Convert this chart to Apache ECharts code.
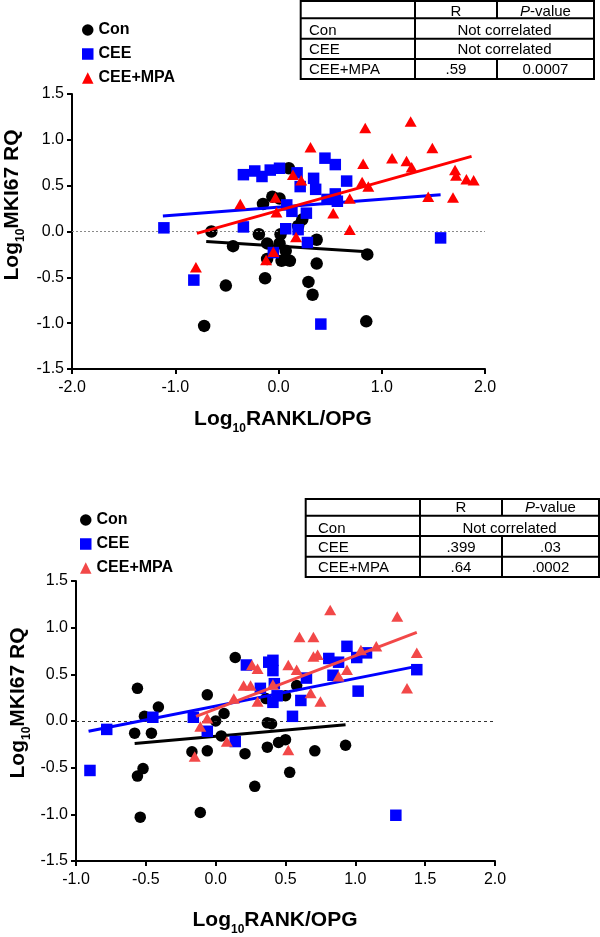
<!DOCTYPE html>
<html><head><meta charset="utf-8">
<script src="https://cdn.jsdelivr.net/npm/echarts@6/dist/echarts.min.js"></script>
<style>html,body{margin:0;padding:0;background:#fff}#c{width:600px;height:937px}</style>
</head><body><div id="c"></div>
<script>
// ---- Data: top panel (x = Log10 RANKL/OPG) ----
const groups = ['Con', 'CEE', 'CEE+MPA'];
const topCon = [[-0.72,-1.03],[-0.65,0.00],[-0.51,-0.59],[-0.44,-0.16],[-0.19,-0.03],[-0.15,0.30],[-0.13,-0.51],[-0.11,-0.13],[-0.11,-0.30],[-0.06,0.38],[0.01,0.36],[0.01,-0.13],[0.02,-0.03],[0.03,-0.32],[0.07,-0.21],[0.10,0.69],[0.11,-0.32],[0.19,0.06],[0.23,0.13],[0.29,-0.55],[0.33,-0.69],[0.37,-0.09],[0.37,-0.35],[0.85,-0.98],[0.86,-0.25]];
const topCEE = [[-1.11,0.04],[-0.82,-0.53],[-0.34,0.05],[-0.34,0.62],[-0.23,0.66],[-0.16,0.60],[-0.08,0.67],[0.01,0.69],[-0.05,-0.23],[0.07,0.03],[0.19,0.02],[0.08,0.29],[0.13,0.22],[0.18,0.64],[0.21,0.49],[0.27,0.20],[0.28,-0.12],[0.34,0.58],[0.36,0.46],[0.41,-1.01],[0.45,0.80],[0.47,0.35],[0.55,0.73],[0.55,0.41],[0.57,0.33],[0.66,0.55],[1.57,-0.07]];
const topMPA = [[-0.80,-0.39],[-0.37,0.30],[-0.12,-0.31],[-0.05,-0.22],[-0.03,0.37],[-0.02,0.21],[0.14,0.62],[0.22,0.56],[0.17,-0.06],[0.31,0.92],[0.53,0.20],[0.69,0.36],[0.69,0.02],[0.81,0.54],[0.87,0.49],[0.82,0.74],[0.84,1.13],[1.10,0.80],[1.24,0.77],[1.29,0.70],[1.28,1.20],[1.45,0.38],[1.49,0.91],[1.69,0.37],[1.71,0.67],[1.72,0.61],[1.82,0.57],[1.89,0.56]];
const topConFit = [[-0.70,-0.11],[0.86,-0.22]];
const topCEEFit = [[-1.12,0.17],[1.57,0.40]];
const topMPAFit = [[-0.79,-0.02],[1.87,0.82]];

// ---- Data: bottom panel (x = Log10 RANK/OPG) ----
const botCon = [[-0.58,-0.13],[-0.56,0.35],[-0.56,-0.59],[-0.54,-1.03],[-0.52,-0.51],[-0.51,0.05],[-0.46,-0.13],[-0.41,0.15],[-0.17,-0.33],[-0.11,-0.98],[-0.06,-0.32],[-0.06,0.28],[0.00,0.00],[0.04,-0.16],[0.06,0.08],[0.14,0.68],[0.21,-0.35],[0.28,-0.70],[0.36,0.24],[0.37,-0.02],[0.40,-0.03],[0.37,-0.28],[0.45,-0.23],[0.50,-0.20],[0.50,0.27],[0.53,-0.55],[0.58,0.38],[0.71,-0.32],[0.93,-0.26]];
const botCEE = [[-0.90,-0.53],[-0.78,-0.09],[-0.45,0.04],[-0.16,0.04],[-0.06,-0.11],[0.14,-0.22],[0.22,0.60],[0.32,0.35],[0.38,0.63],[0.41,0.65],[0.41,0.54],[0.42,0.40],[0.44,0.27],[0.41,0.20],[0.55,0.05],[0.61,0.22],[0.65,0.46],[0.81,0.67],[0.84,0.49],[0.88,0.63],[0.94,0.80],[1.01,0.68],[1.02,0.32],[1.08,0.73],[1.29,-1.01],[1.44,0.55]];
const botMPA = [[-0.15,-0.38],[-0.11,-0.06],[-0.06,0.03],[0.08,-0.22],[0.13,0.24],[0.20,0.38],[0.25,0.38],[0.26,0.60],[0.30,0.56],[0.30,0.21],[0.41,0.39],[0.52,0.60],[0.52,-0.31],[0.58,0.55],[0.60,0.90],[0.68,0.30],[0.70,0.90],[0.70,0.69],[0.73,0.71],[0.75,0.21],[0.82,1.19],[0.88,0.48],[0.94,0.55],[1.04,0.76],[1.15,0.80],[1.30,1.12],[1.37,0.35],[1.44,0.73]];
const botConFit = [[-0.58,-0.24],[0.93,-0.04]];
const botCEEFit = [[-0.91,-0.11],[1.42,0.58]];
const botMPAFit = [[-0.14,0.05],[1.44,0.95]];

// ---- Table texts ----
const tableHeader = ['R', 'P-value'];
const topTableRows = [['Con','Not correlated'],['CEE','Not correlated'],['CEE+MPA','.59','0.0007']];
const botTableRows = [['Con','Not correlated'],['CEE','.399','.03'],['CEE+MPA','.64','.0002']];
const topXTitle = 'RANKL/OPG';
const botXTitle = 'RANK/OPG';
const yTitle = 'MKI67 RQ';

const FONT = '"Liberation Sans", Arial, Helvetica, sans-serif';
const BLACK = '#000000', BLUE = '#0000ff', RED1 = '#ff0000', RED2 = '#f24848';
const SUFFIX = ' (RANK)';

function axisCommon(extra) {
  return Object.assign({
    type: 'value',
    splitLine: { show: false },
    axisLine: { onZero: false, lineStyle: { color: '#000', width: 2 } },
    axisTick: { length: 5, lineStyle: { color: '#000', width: 2 } },
    axisLabel: { color: '#000', fontSize: 16, fontFamily: FONT, formatter: v => v.toFixed(1) }
  }, extra);
}

function scatter(name, data, idx, symbol, size, color, z) {
  return { type: 'scatter', name, data, xAxisIndex: idx, yAxisIndex: idx, symbol, symbolSize: size,
    itemStyle: { color, opacity: 1 }, z, silent: true };
}
function fit(data, idx, color, z) {
  return { type: 'line', data, xAxisIndex: idx, yAxisIndex: idx, symbol: 'none', showSymbol: false,
    lineStyle: { color, width: 3 }, z, silent: true };
}
function zeroLine(idx, color, dash) {
  return { type: 'line', data: [], xAxisIndex: idx, yAxisIndex: idx, silent: true,
    markLine: { silent: true, symbol: 'none', label: { show: false }, animation: false,
      lineStyle: { color, width: 1, type: dash }, data: [{ yAxis: 0 }] }, z: 1 };
}

// ---- Graphic helpers for tables and titles ----
const graphics = [];
function gLine(x1, y1, x2, y2, w) {
  graphics.push({ type: 'line', shape: { x1, y1, x2, y2 }, style: { stroke: '#000', lineWidth: w || 2 }, silent: true });
}
function gText(x, y, text, opts) {
  graphics.push({ type: 'text', x, y, silent: true, style: Object.assign({ text, fontSize: 15, fontFamily: FONT, fill: '#000', align: 'center', verticalAlign: 'middle' }, opts || {}) });
}
function table(L, R, T, rowsY, c1, c2, textYs, labelX, rows) {
  const B = rowsY[rowsY.length - 1];
  graphics.push({ type: 'rect', shape: { x: L, y: T, width: R - L, height: B - T }, style: { fill: 'none', stroke: '#000', lineWidth: 2 }, silent: true });
  for (let i = 0; i < rowsY.length - 1; i++) gLine(L, rowsY[i], R, rowsY[i]);
  gLine(c1, T, c1, B);
  const allY = [T].concat(rowsY);
  // header row
  gLine(c2, T, c2, allY[1]);
  gText((c1 + c2) / 2, textYs[0], tableHeader[0]);
  gText((c2 + R) / 2, textYs[0], '{i|P}{n|-value}', { rich: { i: { fontStyle: 'italic', fontSize: 15, fontFamily: FONT }, n: { fontSize: 15, fontFamily: FONT } } });
  rows.forEach((r, i) => {
    const ty = textYs[i + 1];
    gText(labelX, ty, r[0], { align: 'left' });
    if (r.length === 2) {
      gText((c1 + R) / 2, ty, r[1]);
    } else {
      gLine(c2, allY[i + 1], c2, allY[i + 2]);
      gText((c1 + c2) / 2, ty, r[1]);
      gText((c2 + R) / 2, ty, r[2]);
    }
  });
}
table(300.7, 594, 1, [18.3, 38.7, 59, 79], 415, 497, [11.5, 30.5, 50, 70], 309, topTableRows);
table(305.7, 599, 499, [515.7, 536, 556.7, 577], 420, 502, [508, 528.5, 548, 568], 318, botTableRows);

const titleRich = {
  b: { fontSize: 21, fontWeight: 'bold', fontFamily: FONT, lineHeight: 30, verticalAlign: 'middle' },
  s: { fontSize: 12, fontWeight: 'bold', fontFamily: FONT, lineHeight: 12, verticalAlign: 'bottom' }
};
function title(x, y, main, rot) {
  graphics.push({ type: 'text', x, y, rotation: rot || 0, silent: true,
    style: { text: '{b|Log}{s|10}{b|' + main + '}', rich: titleRich, align: 'center', verticalAlign: 'middle', fill: '#000' } });
}
title(283, 419.5, topXTitle);
title(275, 920.5, botXTitle);
title(12, 205, yTitle, Math.PI / 2);
title(18, 703, yTitle, Math.PI / 2);

function legend(left, top, suffix) {
  return { orient: 'vertical', left, top, padding: 0, itemWidth: 11.5, itemHeight: 11.5, itemGap: 8, selectedMode: false,
    data: [ { name: groups[0] + suffix, icon: 'circle' }, { name: groups[1] + suffix, icon: 'rect' }, { name: groups[2] + suffix, icon: 'triangle' } ],
    formatter: n => n.replace(SUFFIX, ''),
    textStyle: { color: '#000', fontSize: 16, fontWeight: 'bold', fontFamily: FONT, lineHeight: 16 } };
}

const option = {
  animation: false,
  backgroundColor: '#fff',
  grid: [
    { left: 72, top: 94, width: 413, height: 275 },
    { left: 76, top: 581, width: 419, height: 280 }
  ],
  xAxis: [
    axisCommon({ gridIndex: 0, min: -2, max: 2, interval: 1, axisLabel: { color: '#000', fontSize: 16, fontFamily: FONT, margin: 11, formatter: v => v.toFixed(1) } }),
    axisCommon({ gridIndex: 1, min: -1, max: 2, interval: 0.5, axisLabel: { color: '#000', fontSize: 16, fontFamily: FONT, margin: 11, formatter: v => v.toFixed(1) } })
  ],
  yAxis: [
    axisCommon({ gridIndex: 0, min: -1.5, max: 1.5, interval: 0.5, axisLabel: { color: '#000', fontSize: 16, fontFamily: FONT, margin: 8, formatter: v => v.toFixed(1) } }),
    axisCommon({ gridIndex: 1, min: -1.5, max: 1.5, interval: 0.5, axisLabel: { color: '#000', fontSize: 16, fontFamily: FONT, margin: 8, formatter: v => v.toFixed(1) } })
  ],
  legend: [ legend(82, 22, ''), legend(80, 512, SUFFIX) ],
  series: [
    zeroLine(0, '#8a8a8a', [2, 2]),
    scatter(groups[0], topCon, 0, 'circle', 12.5, BLACK, 3),
    fit(topConFit, 0, BLACK, 4),
    scatter(groups[1], topCEE, 0, 'rect', 11.5, BLUE, 5),
    fit(topCEEFit, 0, BLUE, 6),
    scatter(groups[2], topMPA, 0, 'triangle', [12, 10.5], RED1, 7),
    fit(topMPAFit, 0, RED1, 8),

    zeroLine(1, '#333', [3, 3]),
    scatter(groups[0] + SUFFIX, botCon, 1, 'circle', 11.5, BLACK, 3),
    fit(botConFit, 1, BLACK, 4),
    scatter(groups[1] + SUFFIX, botCEE, 1, 'rect', 11.5, BLUE, 5),
    fit(botCEEFit, 1, BLUE, 6),
    scatter(groups[2] + SUFFIX, botMPA, 1, 'triangle', [12, 10.5], RED2, 7),
    fit(botMPAFit, 1, RED2, 8)
  ],
  graphic: { elements: graphics }
};

const chart = echarts.init(document.getElementById('c'), null, { renderer: 'canvas' });
chart.setOption(option);
</script>
</body></html>
